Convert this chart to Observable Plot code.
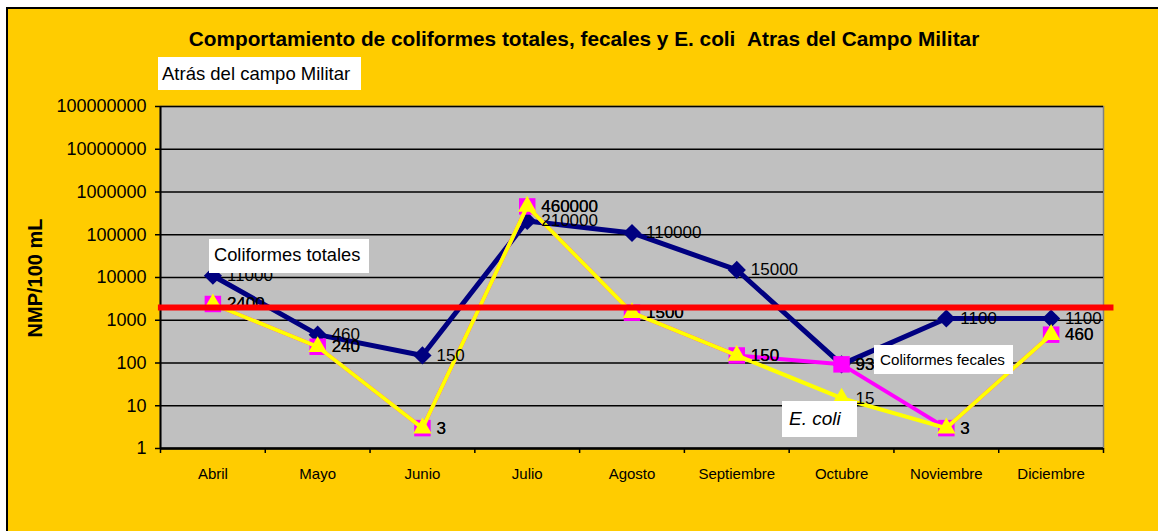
<!DOCTYPE html>
<html><head><meta charset="utf-8">
<script src="https://cdn.jsdelivr.net/npm/d3@7"></script>
<script src="https://cdn.jsdelivr.net/npm/@observablehq/plot@0.6"></script>
<style>
body{margin:0;background:#fff;font-family:Arial,"Liberation Sans",sans-serif;}
#wrap{position:relative;width:1158px;height:531px;overflow:hidden;}
#bg{position:absolute;left:6px;top:7px;width:1170px;height:540px;background:#FFCC00;border-top:2px solid #000;border-left:2px solid #000;}
#chart{position:absolute;left:0;top:0;}
.t{position:absolute;white-space:nowrap;line-height:1;color:#000;}
.box{position:absolute;background:#fff;}
</style>
</head><body>
<div id="wrap"><div id="bg"></div><div id="chart"></div></div>
<script>
const months = ["Abril","Mayo","Junio","Julio","Agosto","Septiembre","Octubre","Noviembre","Diciembre"];
const totales = [11000, 460, 150, 210000, 110000, 15000, 93, 1100, 1100];
const fecales = [2400, 240, 3, 460000, 1500, 150, 93, 3, 460];
const ecoli   = [2400, 240, 3, 460000, 1500, 150, 15, 3, 460];
const yTicks = [1, 10, 100, 1000, 10000, 100000, 1000000, 10000000, 100000000];
const limite = 2000;
const titleText = "Comportamiento de coliformes totales, fecales y E. coli\u00a0\u00a0Atras del Campo Militar";
const subtitleText = "Atrás del campo Militar";
const yLabel = "NMP/100 mL";
const seriesNames = ["Coliformes totales", "Coliformes fecales", "E. coli"];

const rows = vals => vals.map((v, i) => ({x: i + 0.5, mes: months[i], v}));
const tot = rows(totales), fec = rows(fecales), eco = rows(ecoli);
const font = "Arial, 'Liberation Sans', sans-serif";

const chart = Plot.plot({
  width: 1158, height: 531,
  marginLeft: 160, marginRight: 55, marginTop: 106, marginBottom: 83,
  style: {background: "transparent", fontFamily: font, color: "#000"},
  x: {type: "linear", domain: [0, months.length]},
  y: {type: "log", domain: [yTicks[0], yTicks[yTicks.length - 1]]},
  marks: [
    Plot.frame({fill: "#C0C0C0", stroke: "#808080", strokeWidth: 1.5}),
    Plot.gridY(yTicks, {stroke: "#000", strokeOpacity: 1, strokeWidth: 1.5}),
    Plot.axisY({ticks: yTicks, tickFormat: d => String(d), tickSize: 5, tickPadding: 9, fontSize: 18, label: null, strokeWidth: 1.5}),
    Plot.axisX({ticks: d3.range(0, months.length + 1), tickFormat: () => "", tickSize: 5, label: null, strokeWidth: 1.5}),
    Plot.axisX({ticks: months.map((_, i) => i + 0.5), tickFormat: d => months[Math.floor(d)], tickSize: 0, tickPadding: 20, fontSize: 15, label: null}),
    Plot.ruleX([0], {stroke: "#000", strokeWidth: 2}),
    Plot.ruleY([yTicks[0]], {stroke: "#000", strokeWidth: 2.5}),
    Plot.line(tot, {x: "x", y: "v", stroke: "#000080", strokeWidth: 5}),
    Plot.dot(tot, {x: "x", y: "v", symbol: "diamond2", r: 8.2, fill: "#000080", stroke: "none"}),
    Plot.line(fec, {x: "x", y: "v", stroke: "#FF00FF", strokeWidth: 4}),
    Plot.dot(fec, {x: "x", y: "v", symbol: "square", r: 9.3, fill: "#FF00FF", stroke: "none"}),
    Plot.line(eco, {x: "x", y: "v", stroke: "#FFFF00", strokeWidth: 4}),
    Plot.dot(eco, {x: "x", y: "v", symbol: "triangle", r: 6.8, fill: "#FFFF00", stroke: "none"}),
    Plot.text(tot, {x: "x", y: "v", text: d => String(d.v), dx: 14, textAnchor: "start", fontSize: 17, fill: "#000"}),
    Plot.text(fec, {x: "x", y: "v", text: d => String(d.v), dx: 14, textAnchor: "start", fontSize: 17, fill: "#000"}),
    Plot.text(eco, {x: "x", y: "v", text: d => String(d.v), dx: 14, textAnchor: "start", fontSize: 17, fill: "#000"}),
    Plot.ruleY([limite], {stroke: "#FF0000", strokeWidth: 6, x1: -0.02, x2: 9.1})
  ]
});
const wrap = document.getElementById("wrap");
document.getElementById("chart").appendChild(chart);

function box(x, y, w, h) {
  const b = document.createElement("div");
  b.className = "box";
  Object.assign(b.style, {left: x + "px", top: y + "px", width: w + "px", height: h + "px"});
  wrap.appendChild(b);
}
function txt(s, x, baseline, fs, extra = {}) {
  const t = document.createElement("div");
  t.className = "t";
  t.textContent = s;
  Object.assign(t.style, {left: x + "px", top: (baseline - 0.8465 * fs) + "px", fontSize: fs + "px"}, extra);
  wrap.appendChild(t);
  return t;
}
// title
txt(titleText, 584, 46.5, 20.8, {fontWeight: "bold", transform: "translateX(-50%)"});
// subtitle box
box(158, 57, 203, 33);
txt(subtitleText, 162, 80.7, 18.5);
// series annotation boxes
box(209, 239, 160, 34);
txt(seriesNames[0], 214, 261.7, 18.3);
box(874, 345, 139, 29);
txt(seriesNames[1], 880, 365, 15.2);
box(782, 401, 75, 36);
txt(seriesNames[2], 789, 425, 19, {fontStyle: "italic"});
// y axis title
const yt = txt(yLabel, 35, 0, 20, {fontWeight: "bold"});
Object.assign(yt.style, {left: "35px", top: "278px", transform: "translate(-50%,-50%) rotate(-90deg)"});
</script>
</body></html>
